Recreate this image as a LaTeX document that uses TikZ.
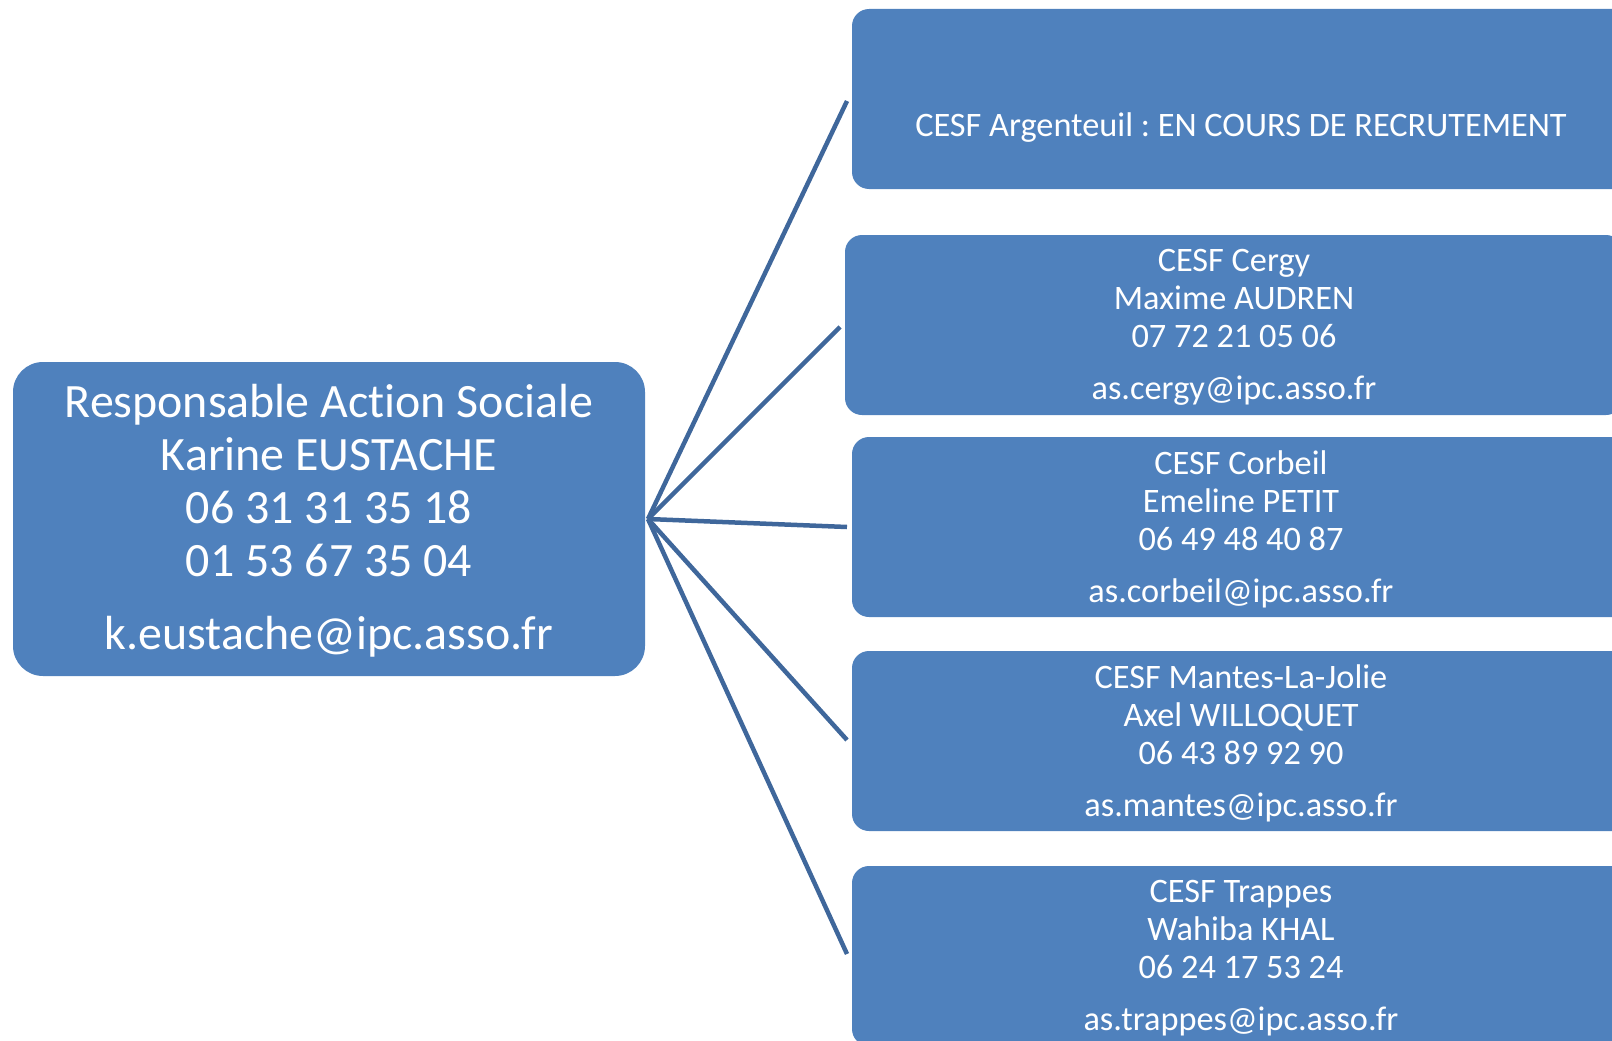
\documentclass[tikz,border=0pt]{standalone}
\usepackage{fontspec}
\setmainfont{Carlito}[Ligatures=NoCommon]
\frenchspacing
\definecolor{boxblue}{HTML}{4F81BD}
\definecolor{lineblue}{HTML}{3F679B}
\begin{document}
\begin{tikzpicture}[x=1pt,y=-1pt,
  cesfbox/.style={fill=boxblue, draw=none, rounded corners=17pt, minimum width=778pt, minimum height=180pt, inner sep=0pt, outer sep=0pt, anchor=north west},
  mainbox/.style={fill=boxblue, draw=none, rounded corners=30pt, minimum width=632pt, minimum height=314pt, inner sep=0pt, outer sep=0pt, anchor=north west},
  cesftext/.style={text=white, align=center, inner sep=0pt, font=\fontsize{34.3}{38}\selectfont},
  maintext/.style={text=white, align=center, inner sep=0pt, font=\fontsize{47.9}{53}\selectfont},
  link/.style={draw=lineblue, line width=4.5pt}]
\path[use as bounding box, clip] (0,0) rectangle (1612,1041);

\node[mainbox] (resp) at (13,362) {};
\node[maintext, yshift=-2pt] (t0) at (resp.center) {Responsable Action Sociale\\Karine EUSTACHE\\06 31 31 35 18\\01 53 67 35 04\\[20pt]k.eustache@ipc.asso.fr};

\node[cesfbox] (b1) at (852,9) {};
\node[cesfbox] (b2) at (845,235) {};
\node[cesfbox] (b3) at (852,437) {};
\node[cesfbox] (b4) at (852,651) {};
\node[cesfbox] (b5) at (852,866) {};

\node[cesftext, yshift=-29pt] (t1) at (b1.center) {CESF Argenteuil : EN COURS DE RECRUTEMENT};
\node[cesftext, yshift=-2.5pt] (t2) at (b2.center) {CESF Cergy\\Maxime AUDREN\\07 72 21 05 06\\[14pt]as.cergy@ipc.asso.fr};
\node[cesftext, yshift=-2.5pt] (t3) at (b3.center) {CESF Corbeil\\Emeline PETIT\\06 49 48 40 87\\[14pt]as.corbeil@ipc.asso.fr};
\node[cesftext, yshift=-2.5pt] (t4) at (b4.center) {CESF Mantes-La-Jolie\\Axel WILLOQUET\\06 43 89 92 90\\[14pt]as.mantes@ipc.asso.fr};
\node[cesftext, yshift=-2.5pt] (t5) at (b5.center) {CESF Trappes\\Wahiba KHAL\\06 24 17 53 24\\[14pt]as.trappes@ipc.asso.fr};

\coordinate (hub) at ([xshift=3pt]resp.east);
\draw[link] (hub) -- ([xshift=-5pt,yshift=-2pt]b1.west);
\draw[link] (hub) -- ([xshift=-5pt,yshift=-2pt]b2.west);
\draw[link] (hub) -- ([xshift=-5pt]b3.west);
\draw[link] (hub) -- ([xshift=-5pt,yshift=1pt]b4.west);
\draw[link] (hub) -- ([xshift=-5pt,yshift=2pt]b5.west);
\end{tikzpicture}
\end{document}
